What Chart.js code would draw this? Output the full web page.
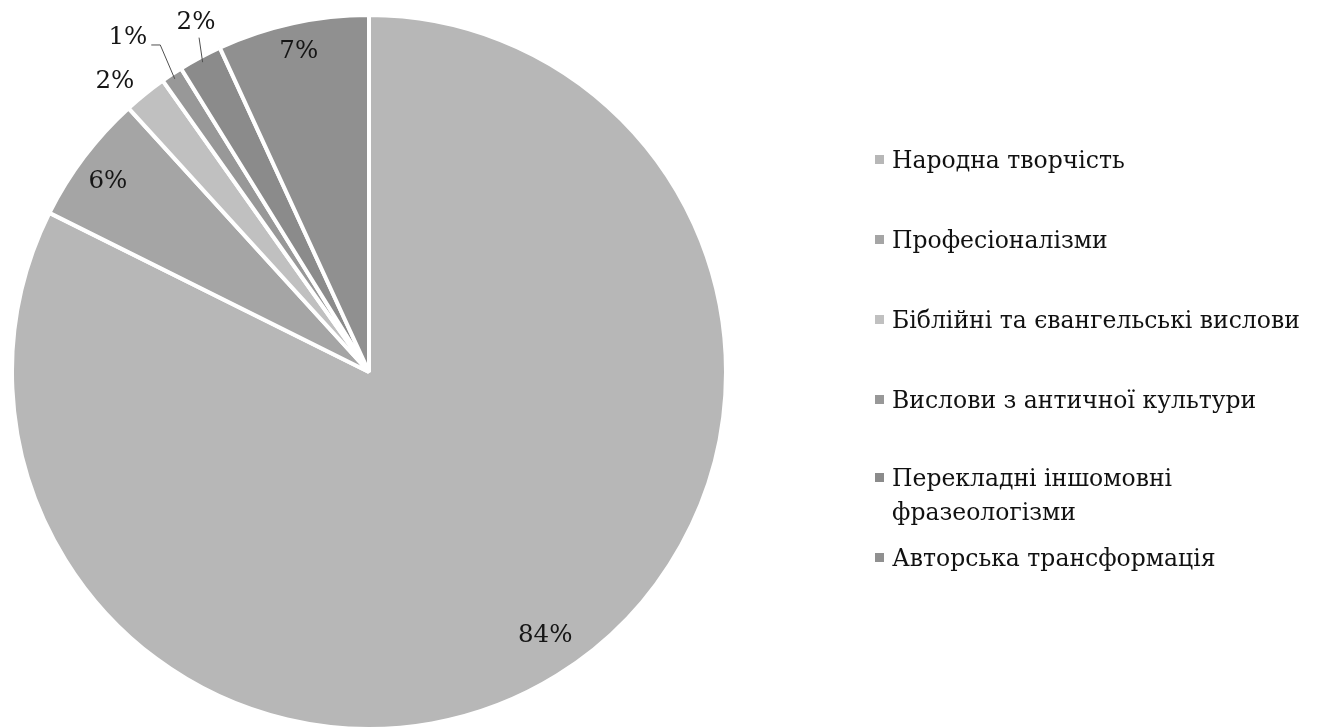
<!DOCTYPE html>
<html>
<head>
<meta charset="utf-8">
<script src="https://cdn.jsdelivr.net/npm/chart.js@4.4.1/dist/chart.umd.min.js"></script>
<style>
  html, body { margin: 0; padding: 0; background: #ffffff; }
  #wrap { position: relative; width: 1322px; height: 728px; overflow: hidden; }
  #pie { position: absolute; left: 0; top: 0; }
  #legend {
    position: absolute; left: 874px; top: 143px; width: 442px;
    font-family: "DejaVu Serif", "Liberation Serif", serif;
    font-size: 23.5px; color: #111111;
  }
  .item { position: relative; padding-left: 18px; line-height: 34px; margin-bottom: 46px; }
  .item:nth-child(4) { margin-bottom: 44px; }
  .item:nth-child(5) { margin-bottom: 12px; }
  .box { position: absolute; left: 1px; top: 12px; width: 9px; height: 9px; }
</style>
</head>
<body>
<div id="wrap">
  <canvas id="pie" width="1322" height="728"></canvas>
  <div id="legend"></div>
</div>
<script>
// Sources of phraseological units, percent of total
const categories = [
  'Народна творчість',
  'Професіоналізми',
  'Біблійні та євангельські вислови',
  'Вислови з античної культури',
  'Перекладні іншомовні фразеологізми',
  'Авторська трансформація'
];
const shares = [84, 6, 2, 1, 2, 7];
const sliceColors = ['#b7b7b7', '#a5a5a5', '#c0c0c0', '#989898', '#8b8b8b', '#909090'];

// Where each percentage sits: fraction of the radius, angular nudge (deg), leader style
const labelPlacement = [
  { r: 0.888, da: -2 },
  { r: 0.906, da: -0.9 },
  { r: 1.08, da: -2.4 },
  { r: 1.154, da: -2.3, leader: 'elbow' },
  { r: 1.092, da: 1.9, leader: 'straight' },
  { r: 0.92, da: 0 }
];

const percentLabels = {
  id: 'percentLabels',
  afterDatasetsDraw(chart) {
    const ctx = chart.ctx;
    const meta = chart.getDatasetMeta(0);
    const values = chart.data.datasets[0].data;
    ctx.save();
    ctx.font = '24.5px "DejaVu Serif", "Liberation Serif", serif';
    ctx.fillStyle = '#161616';
    ctx.textAlign = 'center';
    ctx.textBaseline = 'middle';
    meta.data.forEach((arc, i) => {
      const p = arc.getProps(['x', 'y', 'startAngle', 'endAngle', 'outerRadius'], true);
      const place = labelPlacement[i];
      const mid = (p.startAngle + p.endAngle) / 2;
      const a = mid + place.da * Math.PI / 180;
      const lx = p.x + Math.cos(a) * p.outerRadius * place.r;
      const ly = p.y + Math.sin(a) * p.outerRadius * place.r;
      const text = values[i] + '%';
      ctx.fillText(text, lx, ly);
      if (place.leader) {
        const rimX = p.x + Math.cos(mid) * p.outerRadius * 0.985;
        const rimY = p.y + Math.sin(mid) * p.outerRadius * 0.985;
        const w = ctx.measureText(text).width;
        ctx.beginPath();
        ctx.strokeStyle = '#505050';
        ctx.lineWidth = 1;
        if (place.leader === 'elbow') {
          const sx = lx + w / 2 + 4, sy = ly + 7;
          ctx.moveTo(sx, sy);
          ctx.lineTo(sx + 9, sy);
          ctx.lineTo(rimX, rimY);
        } else {
          ctx.moveTo(lx + 3, ly + 15);
          ctx.lineTo(rimX, rimY);
        }
        ctx.stroke();
      }
    });
    ctx.restore();
  }
};

const chart = new Chart(document.getElementById('pie'), {
  type: 'pie',
  data: {
    labels: categories,
    datasets: [{
      data: shares,
      backgroundColor: sliceColors,
      borderColor: '#ffffff',
      borderWidth: 4
    }]
  },
  options: {
    responsive: false,
    animation: false,
    radius: 357,
    layout: { padding: { left: 0, right: 584, top: 16, bottom: 0 } },
    plugins: { legend: { display: false }, tooltip: { enabled: false } }
  },
  plugins: [percentLabels]
});

// Legend built from the chart's own data
const legendEl = document.getElementById('legend');
chart.data.labels.forEach((name, i) => {
  const item = document.createElement('div');
  item.className = 'item';
  const box = document.createElement('span');
  box.className = 'box';
  box.style.background = chart.data.datasets[0].backgroundColor[i];
  item.appendChild(box);
  item.appendChild(document.createTextNode(name));
  legendEl.appendChild(item);
});
</script>
</body>
</html>
